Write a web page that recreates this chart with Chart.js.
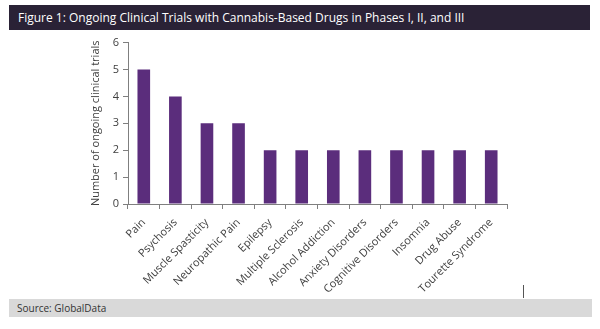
<!DOCTYPE html>
<html>
<head>
<meta charset="utf-8">
<script src="https://cdn.jsdelivr.net/npm/chart.js@4"></script>
<style>
  body { margin: 0; background: #fff; width: 600px; height: 329px; overflow: hidden; position: relative; font-family: "Open Sans", sans-serif; }
  #title { position: absolute; left: 9px; top: 5px; width: 581px; height: 25px; background: #2a2236; color: #fff; font-size: 12px; line-height: 25px; padding-left: 9px; box-sizing: border-box; }
  #footer { position: absolute; left: 9px; top: 299px; width: 583px; height: 18px; background: #d9d9d9; color: #333; font-size: 10px; line-height: 18px; padding-left: 8px; box-sizing: border-box; }
  #mark { position: absolute; left: 523px; top: 285px; width: 1px; height: 13px; background: #555; }
  #wrap { position: absolute; left: 0; top: 32px; width: 600px; height: 266px; }
</style>
</head>
<body>
<div id="title">Figure 1: Ongoing Clinical Trials with Cannabis-Based Drugs in Phases I, II, and III</div>
<div id="wrap"><canvas id="myChart"></canvas></div>
<div id="mark"></div>
<div id="footer">Source: GlobalData</div>
<script>
const conditions = ['Pain', 'Psychosis', 'Muscle Spasticity', 'Neuropathic Pain', 'Epilepsy', 'Multiple Sclerosis',
    'Alcohol Addiction', 'Anxiety Disorders', 'Cognitive Disorders', 'Insomnia', 'Drug Abuse', 'Tourette Syndrome'];
const trials = [5, 4, 3, 3, 2, 2, 2, 2, 2, 2, 2, 2];
const yTicks = [0, 1, 2, 3, 4, 5, 6];

const ctx = document.getElementById('myChart');
const myChart = new Chart(ctx, {
    type: 'bar',
    data: {
        labels: conditions,
        datasets: [{
            label: 'Trials',
            data: trials,
            backgroundColor: '#5b2d7c',
            categoryPercentage: 0.4,
            barPercentage: 1
        }]
    },
    options: {
        responsive: true,
        maintainAspectRatio: false,
        animation: false,
        layout: { padding: { left: 89, right: 93, top: 10, bottom: 0 } },
        plugins: { legend: { display: false }, tooltip: { enabled: false } },
        scales: {
            x: {
                afterFit: s => { s.height = 94; },
                grid: { drawOnChartArea: false, color: '#7f7f7f', tickLength: 5 },
                border: { color: '#7f7f7f' },
                ticks: { color: '#404040', font: { family: 'Open Sans', size: 11 }, maxRotation: 45, minRotation: 45, padding: 7 }
            },
            y: {
                min: 0,
                max: 6,
                afterFit: s => { s.width = 39; },
                afterBuildTicks: s => { s.ticks = yTicks.map(v => ({ value: v })); },
                grid: { drawOnChartArea: false, color: '#7f7f7f', tickLength: 5 },
                border: { color: '#7f7f7f' },
                ticks: { color: '#404040', font: { family: 'Open Sans', size: 11 }, padding: 4 },
                title: { display: true, text: 'Number of ongoing clinical trials', color: '#404040', font: { family: 'Open Sans', size: 11 }, padding: 0 }
            }
        }
    }
});
</script>
</body>
</html>
